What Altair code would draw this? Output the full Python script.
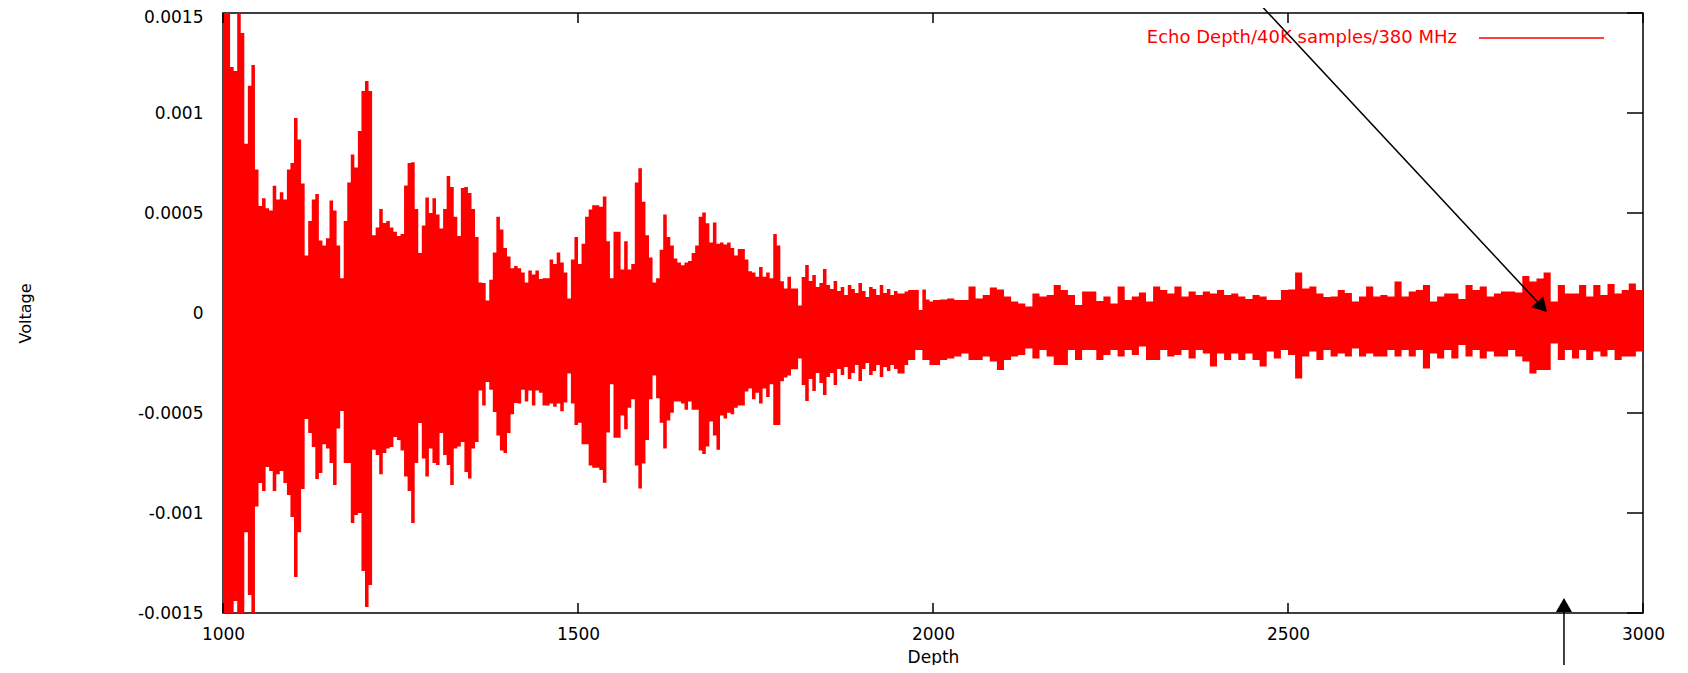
import altair as alt
import pandas as pd

# ---- envelope of the echo signal (units of 1e-4 V) ----
# 1000-1995, one value per 5 depth units
UPPER_A = [
    17, 17, 12.3, 12.1, 17, 14.0, 8.46, 11.36, 12.4, 7.17,
    5.35, 5.74, 5.24, 5.13, 6.36, 5.67, 6.04, 5.67, 7.17, 7.5,
    9.75, 8.68, 6.47, 2.88, 4.6, 5.67, 5.95, 3.63, 3.37, 3.74,
    5.63, 5.13, 3.37, 1.74, 4.6, 6.53, 7.92, 7.28, 9.1, 11.1,
    11.6, 11.1, 3.89, 4.28, 5.2, 4.5, 4.6, 4.28, 4.06, 3.85,
    3.95, 6.38, 7.5, 7.54, 5.2, 3.0, 4.38, 5.78, 5.0, 5.74,
    4.92, 4.23, 5.2, 6.85, 6.3, 4.81, 3.85, 6.25, 6.3, 6.0,
    5.2, 3.8, 1.53, 1.5, 0.63, 1.66, 3.03, 4.81, 4.17, 3.25,
    2.82, 2.24, 2.35,
    2.24, 2.02, 1.53, 2.13, 1.92, 2.13, 1.7, 1.74, 1.74, 2.67,
    2.45, 3.03, 2.52, 2.02, 0.73, 2.67, 3.8, 2.45, 3.46, 4.81,
    5.18, 5.39, 5.39, 5.31, 5.82, 3.59, 1.74, 4.06, 4.06, 2.17,
    3.59, 2.17, 2.45, 6.53, 7.24, 5.56, 3.89, 2.77, 1.53, 1.74,
    3.16, 4.92, 3.8, 3.37, 2.73, 2.52, 2.39, 2.52, 2.6, 3.0,
    3.37, 4.81, 5.03, 4.49, 3.52, 4.53, 3.46, 3.52, 3.42, 3.52,
    3.25, 2.88, 3.2, 3.2, 2.67, 2.09, 2.02, 1.81, 2.3, 1.81,
    2.02, 1.74, 3.95, 3.37, 1.59, 1.23, 1.81, 1.23, 1.23, 0.37,
    1.8, 2.4, 1.6, 1.9, 1.3, 1.5, 2.2, 1.4, 1.2, 1.6,
    1.1, 1.3, 0.9, 1.4, 1.2, 1.0, 1.5, 1.1, 0.8, 1.3,
    1.2, 0.9, 1.4, 1.0, 1.2, 0.9, 1.1,
    0.98, 0.98, 1.07, 1.15, 1.15, 1.15, 0.15, 1.18, 0.68, 0.57,
]
LOWER_A = [
    -17, -17, -17, -14.4, -17, -17, -10.96, -14.1, -17, -9.67,
    -8.5, -8.9, -7.7, -7.9, -8.9, -8.06, -7.9, -8.5, -9.1, -10.2,
    -13.2, -10.96, -8.8, -5.3, -6.0, -6.7, -8.3, -8.0, -6.56, -6.78,
    -7.5, -8.6, -5.77, -4.9, -7.5, -7.5, -10.5, -10.1, -10.0, -12.9,
    -14.7, -13.6, -6.84, -7.1, -8.06, -7.0, -6.78, -6.7, -6.2, -6.35,
    -6.88, -8.17, -8.9, -10.5, -7.5, -5.5, -7.27, -8.17, -6.78, -7.5,
    -7.6, -6.0, -7.1, -7.6, -8.6, -6.78, -6.67, -6.45, -7.95, -8.28,
    -6.78, -6.45, -3.88, -4.63, -3.45, -3.84, -4.95, -6.13, -6.88, -7.0,
    -6.0, -5.06, -4.5,
    -4.52, -3.84, -4.42, -3.88, -4.63, -3.88, -3.99, -4.63, -4.63, -4.52,
    -4.69, -4.52, -4.91, -4.48, -3.02, -4.52, -5.6, -5.49, -6.56, -6.56,
    -7.63, -7.74, -7.74, -7.85, -8.49, -5.98, -3.56, -6.24, -6.24, -5.12,
    -5.81, -4.74, -4.31, -7.63, -8.77, -7.53, -6.35, -4.31, -3.13, -4.26,
    -5.49, -6.78, -5.38, -4.99, -4.42, -4.42, -4.52, -4.84, -4.42, -4.84,
    -4.84, -6.88, -7.05, -6.67, -5.42, -6.13, -6.84, -5.12, -5.27, -4.99,
    -5.06, -4.74, -4.63, -4.63, -3.92, -3.77, -4.31, -3.99, -4.52, -3.77,
    -4.2, -3.56, -5.6, -5.6, -3.41, -3.23, -3.13, -2.81, -2.81, -2.27,
    -3.6, -4.4, -3.3, -3.9, -3.0, -3.5, -4.1, -3.2, -3.0, -3.6,
    -2.8, -3.1, -2.7, -3.3, -3.0, -2.6, -3.4, -2.8, -2.5, -3.1,
    -2.9, -2.6, -3.2, -2.7, -2.9, -2.6, -2.8,
    -3.02, -3.02, -2.6, -2.35, -2.35, -1.85, -1.85, -2.35, -2.35, -2.6,
]
# 2000-2990, one value per 10 depth units
UPPER_B = [
    0.65, 0.68, 0.73, 0.65, 0.65, 1.32, 0.73, 0.9, 1.28, 1.18,
    0.82, 0.57, 0.48, 0.32, 0.98, 0.82, 0.9, 1.4, 1.15, 0.9,
    0.4, 1.07, 1.07, 0.6, 0.82, 0.48, 1.32, 0.65, 0.82, 1.02,
    0.57, 1.32, 1.15, 0.98, 1.32, 0.82, 1.07, 0.9, 1.07, 0.98,
    1.15, 0.9, 0.98, 0.82, 0.7, 0.9, 0.82, 0.65, 0.65, 1.15,
    1.18, 2.02, 1.23, 1.32, 0.98, 0.8, 0.82, 1.15, 1.0, 0.57,
    0.82, 1.32, 0.82, 0.9, 0.82, 1.57, 0.82, 1.07, 1.15, 1.4,
    0.57, 0.82, 0.98, 0.98, 0.7, 1.4, 1.15, 1.32, 0.82, 0.98,
    1.07, 1.07, 1.02, 1.85, 1.57, 1.73, 2.02, 0.57, 1.4, 0.98,
    0.98, 1.4, 0.82, 1.4, 0.9, 1.45, 0.98, 1.15, 1.48, 1.15,
]
LOWER_B = [
    -2.6, -2.35, -2.27, -2.18, -2.02, -2.35, -2.35, -2.18, -2.43, -2.85,
    -2.35, -2.18, -2.1, -1.77, -2.27, -1.85, -2.18, -2.6, -2.6, -1.85,
    -2.35, -1.85, -1.85, -2.35, -2.1, -1.85, -2.18, -1.85, -2.1, -1.68,
    -2.35, -2.35, -1.85, -2.18, -2.1, -1.85, -2.27, -1.85, -2.02, -2.68,
    -2.02, -2.35, -2.02, -2.35, -2.02, -2.35, -2.68, -1.93, -2.27, -1.85,
    -2.1, -3.27, -2.18, -1.93, -2.35, -1.85, -2.18, -2.02, -2.18, -1.77,
    -2.18, -2.02, -2.18, -2.18, -1.85, -2.18, -1.85, -2.18, -1.85, -2.77,
    -2.02, -2.27, -1.85, -2.27, -1.6, -2.18, -1.85, -2.27, -1.93, -2.18,
    -2.18, -1.85, -2.18, -2.43, -3.02, -2.85, -2.85, -1.52, -2.35, -1.85,
    -2.27, -1.85, -2.35, -1.93, -2.18, -1.85, -2.35, -2.18, -2.18, -1.93,
]

X_TICKS = [1000, 1500, 2000, 2500, 3000]
Y_TICKS = [-0.0015, -0.001, -0.0005, 0, 0.0005, 0.001, 0.0015]
Y_TICKS_RIGHT = [-0.0015, -0.001, -0.0005, 0.0005, 0.001, 0.0015]
LEGEND_LABEL = "Echo Depth/40K samples/380 MHz"

# annotation arrows (data coordinates): start, head centre, head angle
ARROW_X = [2455, 2888.7]
ARROW_Y = [0.001565, -0.0018]
ARROW_X2 = [2858, 2888.7]
ARROW_Y2 = [0.0000305, -0.00146]
ARROW_ANGLE = [137, 0]

depth = ([1000 + 5 * i for i in range(len(UPPER_A))]
         + [2000 + 10 * i for i in range(len(UPPER_B))] + [3000])
upper = UPPER_A + UPPER_B + [UPPER_B[-1]]
lower = LOWER_A + LOWER_B + [LOWER_B[-1]]
df = pd.DataFrame({"Depth": depth,
                   "hi": [u * 1e-4 for u in upper],
                   "lo": [v * 1e-4 for v in lower]})

W, H = 1420, 600
FONT = "DejaVu Sans"
xs = alt.Scale(domain=[1000, 3000], nice=False, zero=False)
ys = alt.Scale(domain=[-0.0015, 0.0015], nice=False, zero=False)

X_AXIS = alt.Axis(values=X_TICKS, format="d", title="Depth",
                  ticks=False, domain=False, grid=False,
                  labelFlush=False, labelOverlap=False,
                  labelPadding=13, labelFont=FONT, labelFontSize=17,
                  labelColor="black", titleFont=FONT, titleFontSize=17,
                  titleFontWeight="normal", titleColor="black",
                  titleY=49, titleBaseline="alphabetic")
Y_AXIS = alt.Axis(values=Y_TICKS, labelExpr="'' + datum.value",
                  title="Voltage", ticks=False,
                  domain=False, grid=False, labelFlush=False,
                  labelOverlap=False, labelPadding=20,
                  labelOffset=alt.condition("datum.value > 0.0014",
                                            alt.value(4), alt.value(0)),
                  labelFont=FONT, labelFontSize=17,
                  labelColor="black", titleFont=FONT,
                  titleFontSize=16, titleFontWeight="normal",
                  titleColor="black", titleX=-198, titleY=H / 2,
                  titleAngle=270, titleAlign="center",
                  titleBaseline="middle")

area = alt.Chart(df).mark_area(
    interpolate="step-after", color="#ff0000", clip=True, opacity=1
).encode(
    x=alt.X("Depth:Q", scale=xs, axis=X_AXIS),
    y=alt.Y("hi:Q", scale=ys, axis=Y_AXIS),
    y2="lo:Q",
)

xt = pd.DataFrame({"t": X_TICKS})
yt = pd.DataFrame({"t": Y_TICKS_RIGHT})
tick_style = dict(color="black", strokeWidth=1.5)

xtick_bottom = alt.Chart(xt).mark_rule(**tick_style).encode(
    x=alt.X("t:Q", scale=xs, axis=X_AXIS), y=alt.value(H), y2=alt.value(H - 10))
xtick_top = alt.Chart(xt).mark_rule(**tick_style).encode(
    x=alt.X("t:Q", scale=xs, axis=X_AXIS), y=alt.value(0), y2=alt.value(10))
ytick_right = alt.Chart(yt).mark_rule(**tick_style).encode(
    y=alt.Y("t:Q", scale=ys, axis=Y_AXIS), x=alt.value(W), x2=alt.value(W - 16))

legend_text = alt.Chart(pd.DataFrame({"label": [LEGEND_LABEL]})).mark_text(
    align="right", baseline="middle", color="#ff0000", font=FONT, fontSize=18
).encode(x=alt.value(1234), y=alt.value(25), text="label:N")
legend_line = alt.Chart(pd.DataFrame({"label": [LEGEND_LABEL]})).mark_rule(
    color="#ff0000", strokeWidth=1.5
).encode(x=alt.value(1256), x2=alt.value(1381), y=alt.value(25))

arrows_df = pd.DataFrame({"x": ARROW_X, "y": ARROW_Y, "x2": ARROW_X2,
                          "y2": ARROW_Y2, "a": ARROW_ANGLE})
arrow_lines = alt.Chart(arrows_df).mark_rule(color="black", strokeWidth=1.5).encode(
    x=alt.X("x:Q", scale=xs, axis=X_AXIS), y=alt.Y("y:Q", scale=ys, axis=Y_AXIS),
    x2="x2:Q", y2="y2:Q")
arrow_heads = alt.Chart(arrows_df).mark_point(
    shape="triangle-up", filled=True, color="black", size=260, opacity=1
).encode(
    x=alt.X("x2:Q", scale=xs, axis=X_AXIS), y=alt.Y("y2:Q", scale=ys, axis=Y_AXIS),
    angle=alt.Angle("a:Q", scale=None))

chart = alt.layer(
    area, xtick_bottom, xtick_top, ytick_right,
    legend_text, legend_line, arrow_lines, arrow_heads
).properties(
    width=W, height=H,
    autosize=alt.AutoSizeParams(type="none"),
    padding={"left": 215, "top": 5, "right": 37, "bottom": 52},
).configure_view(stroke="black", strokeWidth=1.5)

chart.save("out.html", embed_options={"renderer": "svg", "actions": False})
